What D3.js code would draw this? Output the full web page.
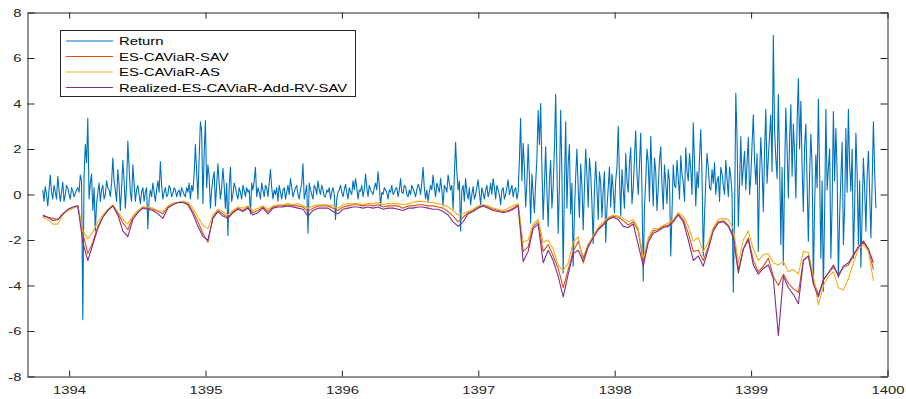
<!DOCTYPE html>
<html><head><meta charset="utf-8">
<script src="https://cdn.jsdelivr.net/npm/d3@7"></script>
<style>body{margin:0;background:#fff}svg{display:block}text{font-family:"Liberation Sans",Arial,Helvetica,sans-serif}</style>
</head><body><svg id="c" width="906" height="399"></svg>
<script>
// ---- data ----
const yearTicks = [1394, 1395, 1396, 1397, 1398, 1399, 1400];
const valueTicks = [-8, -6, -4, -2, 0, 2, 4, 6, 8];
const seriesNames = ["Return", "ES-CAViaR-SAV", "ES-CAViaR-AS", "Realized-ES-CAViaR-Add-RV-SAV"];
const seriesColors = ["#0072BD", "#D95319", "#EDB120", "#7E2F8E"];
const returnStart = 1393.807, returnEnd = 1399.915;
const esStart = 1393.807, esEnd = 1399.897;

const returnValues = [
0.2,-0.3,0.35,0.0,-0.5,0.2,0.85,0.1,-0.2,0.4,0.1,-0.2,0.8,0.2,-0.3,0.1,0.55,-0.3,0.0,0.4,0.3,0.0,-0.2,0.3,0.15,-0.1,0.05,0.2,0.3,0.1,0.85,0.6,-5.5,0.8,2.2,1.4,3.35,-0.2,0.5,0.9,-0.7,0.3,-1.6,-0.4,0.1,0.5,-0.3,0.2,0.4,-0.2,0.0,0.6,0.3,0.2,-0.1,0.5,1.6,0.6,0.2,-0.3,1.1,0.4,-0.7,0.3,1.5,0.6,-0.6,0.4,2.35,1.2,0.1,-0.3,1.3,0.5,-0.3,0.2,0.4,0.0,-0.4,0.1,0.3,-0.3,0.1,0.3,-1.5,-0.2,0.2,-0.1,0.5,0.1,-0.3,0.2,0.6,0.1,1.45,0.4,-0.2,0.1,0.3,-0.1,0.0,0.4,0.25,-0.1,0.05,0.3,0.2,-0.1,0.1,0.2,-0.1,0.3,0.15,0.0,
-0.1,0.3,0.1,0.5,-0.2,0.4,0.15,0.9,2.2,1.0,-0.2,1.6,3.2,2.75,-0.4,1.8,3.25,0.3,1.3,0.8,-0.6,0.2,0.7,1.0,-0.5,0.4,1.35,0.5,-0.2,0.3,1.15,0.4,-0.6,0.5,-1.8,0.3,1.2,-0.3,0.0,0.5,0.3,0.0,-0.2,0.3,0.1,-0.2,0.4,0.2,-0.1,0.3,0.1,0.2,-0.85,0.5,0.2,0.6,1.2,-0.1,0.3,0.1,-0.2,0.5,0.2,-0.1,0.4,0.3,-0.1,0.5,1.1,0.3,-0.2,0.2,0.0,0.3,-0.3,0.4,0.1,-0.2,0.2,0.3,-0.2,0.1,0.4,0.0,0.7,0.3,-0.1,0.1,0.3,0.4,0.0,-0.2,0.2,0.5,1.35,-0.2,0.1,0.4,-1.7,0.5,0.2,0.0,-0.2,0.4,0.3,0.0,0.6,0.2,0.0,0.4,0.2,-0.1,
-0.1,0.2,0.1,0.3,-0.2,0.1,0.3,0.0,-1.1,-0.2,0.1,0.2,0.4,0.1,-0.1,0.2,0.45,0.1,-0.2,0.3,0.1,0.0,0.6,0.2,0.7,0.3,-0.2,0.2,0.15,0.4,-0.1,0.2,0.9,0.3,-0.1,0.4,0.2,0.1,0.0,0.3,0.5,0.2,1.0,0.4,-0.5,0.1,0.0,0.3,0.2,0.1,-0.2,0.2,0.1,0.4,0.0,0.1,0.25,0.3,-0.1,0.2,0.7,0.1,0.05,0.4,0.35,0.0,-0.1,0.2,0.0,0.4,0.25,0.1,-0.1,0.2,0.45,0.3,0.0,0.5,1.2,0.3,-0.2,0.2,-0.3,0.1,0.4,0.2,0.85,0.3,-0.1,0.5,0.3,0.1,0.7,0.2,-0.5,0.4,0.3,0.1,0.85,0.5,0.2,0.4,-0.65,0.8,2.3,1.0,0.2,0.6,-1.6,0.2,0.4,-0.3,
0.7,0.1,-0.2,0.3,-0.45,0.0,0.35,-0.2,0.0,0.3,0.65,0.1,-0.45,0.3,0.05,-0.2,0.2,0.4,-0.1,0.1,0.5,0.0,0.7,0.3,-0.2,0.4,0.2,0.0,-0.45,0.2,0.3,-0.2,0.0,0.3,0.65,0.0,0.2,0.4,-0.1,0.2,0.3,-0.2,0.1,1.5,3.35,0.6,2.25,1.2,-0.55,0.5,2.2,0.8,-1.25,0.9,0.05,-0.8,0.5,1.6,3.7,2.2,4.0,1.2,-1.1,0.4,2.1,0.2,-1.4,0.6,1.5,-0.6,0.35,2.0,4.4,1.2,-1.7,0.4,3.7,0.9,-3.45,0.3,3.2,-0.6,1.35,2.2,-0.85,0.5,-3.15,-0.9,0.8,2.0,0.3,-1.0,1.35,0.4,-1.55,0.3,2.0,0.9,-0.55,1.6,0.9,-0.4,-2.15,0.2,1.45,0.3,-1.1,1.0,0.5,-1.0,0.2,1.0,-2.1,-0.6,0.3,1.2,-0.55,0.9,0.2,-0.8,0.6,1.2,3.0,0.8,-0.95,1.1,0.2,-0.6,1.8,0.6,0.1,1.4,2.05,-0.4,0.3,1.6,2.8,0.9,0.0,1.3,2.7,0.2,-3.8,-0.5,0.6,2.0,1.4,-0.3,2.55,0.9,-0.5,1.6,1.0,-0.7,0.3,1.5,2.1,0.4,-0.65,1.3,0.5,-0.4,1.1,0.6,-2.7,-0.8,1.3,0.4,0.3,1.5,0.7,-0.2,1.7,0.9,0.5,-0.3,2.05,1.0,0.6,1.8,1.1,0.0,3.15,1.4,-0.5,1.0,0.3,1.6,2.85,0.8,-2.7,-0.9,0.6,1.8,1.2,0.3,0.2,1.1,0.5,1.4,0.0,0.6,0.8,-0.3,1.2,0.9,0.4,0.0,1.5,0.7,-0.1,1.2,0.8,0.0,-4.3,-1.0,4.45,2.5,-1.4,0.5,2.55,0.4,
1.2,1.9,0.2,1.4,2.5,0.0,0.8,2.2,3.5,1.5,0.45,1.8,-2.5,0.8,2.5,1.2,-0.75,1.9,3.75,0.5,1.6,2.6,3.5,1.0,7.0,2.8,1.6,0.7,4.4,1.5,-2.2,1.2,-3.1,0.9,3.8,2.0,-0.15,2.4,3.95,0.8,3.1,1.8,-0.15,3.2,5.1,2.0,4.1,1.2,-0.75,2.1,3.1,0.5,-2.05,0.9,2.65,1.2,-3.95,-0.5,1.75,0.3,4.2,1.0,-2.8,0.6,-4.25,-0.8,3.75,0.2,1.15,2.0,-2.8,-0.4,3.65,0.6,2.9,1.0,-3.65,-1.0,0.75,2.3,-2.2,-0.6,2.9,0.1,3.75,1.3,0.15,2.0,-2.8,-0.5,2.7,0.9,-2.2,0.6,-3.2,-0.8,1.6,0.3,-1.6,0.8,1.9,0.1,-1.9,0.5,3.2,1.0,-0.6
];

const esSAV = [
-0.95,-1.0,-1.05,-1.1,-0.85,-0.7,-0.6,-0.5,-1.7,-2.6,-2.1,-1.4,-1.0,-0.7,-0.5,-0.8,-1.25,-1.55,-1.0,-0.75,-0.55,-0.6,-0.65,-0.75,-0.85,-0.55,-0.4,-0.35,-0.3,
-0.4,-0.75,-1.2,-1.7,-2.1,-1.0,-0.7,-0.85,-1.0,-0.75,-0.6,-0.7,-0.55,-0.8,-0.7,-0.55,-0.75,-0.55,-0.5,-0.5,-0.45,-0.5,-0.5,-0.55,-0.75,-0.6,-0.5,-0.5,
-0.5,-0.6,-0.7,-0.55,-0.5,-0.45,-0.45,-0.5,-0.45,-0.5,-0.45,-0.55,-0.5,-0.5,-0.5,-0.6,-0.5,-0.5,-0.45,-0.45,-0.5,-0.5,-0.55,-0.6,-0.75,-0.95,-1.2,-1.0,
-0.8,-0.7,-0.55,-0.45,-0.55,-0.65,-0.7,-0.75,-0.7,-0.6,-0.45,-2.5,-2.3,-1.4,-1.2,-2.5,-2.2,-2.7,-3.25,-4.1,-3.3,-2.5,-2.05,-2.8,-2.2,-1.85,-1.5,-1.3,
-1.05,-0.95,-1.0,-1.15,-1.35,-1.2,-1.6,-3.0,-2.0,-1.6,-1.55,-1.4,-1.35,-1.15,-0.85,-1.1,-1.7,-2.5,-2.45,-2.9,-2.3,-1.5,-1.2,-1.15,-1.35,-1.8,-3.3,
-2.4,-1.9,-2.9,-3.4,-3.15,-2.8,-3.6,-4.0,-3.5,-3.9,-4.15,-4.3,-2.9,-2.7,-3.8,-4.4,-3.75,-3.45,-3.2,-3.5,-3.2,-3.1,-2.7,-2.3,-2.1,-2.4,-3.3
];

const esAS = [
-1.0,-1.1,-1.3,-1.3,-0.9,-0.7,-0.6,-0.5,-1.6,-1.95,-1.65,-1.2,-0.9,-0.65,-0.45,-0.75,-1.1,-1.3,-0.95,-0.7,-0.55,-0.55,-0.6,-0.7,-0.75,-0.5,-0.4,-0.35,-0.3,
-0.35,-0.6,-1.0,-1.35,-1.5,-0.9,-0.65,-0.75,-0.9,-0.7,-0.55,-0.6,-0.5,-0.7,-0.6,-0.5,-0.65,-0.5,-0.45,-0.45,-0.4,-0.45,-0.4,-0.5,-0.6,-0.5,-0.45,-0.45,
-0.45,-0.5,-0.6,-0.45,-0.4,-0.4,-0.4,-0.45,-0.4,-0.4,-0.35,-0.45,-0.4,-0.4,-0.4,-0.45,-0.4,-0.35,-0.3,-0.3,-0.35,-0.35,-0.4,-0.45,-0.55,-0.7,-0.9,-0.85,
-0.75,-0.65,-0.5,-0.45,-0.5,-0.6,-0.65,-0.7,-0.6,-0.5,-0.4,-2.1,-2.0,-1.3,-1.1,-2.1,-2.0,-2.4,-3.1,-3.35,-3.0,-2.1,-1.85,-3.05,-2.3,-1.8,-1.45,-1.2,
-1.0,-0.9,-0.95,-1.05,-1.2,-1.1,-1.5,-2.8,-1.9,-1.5,-1.5,-1.35,-1.25,-1.1,-0.8,-0.95,-1.4,-2.05,-1.9,-2.5,-2.1,-1.45,-1.1,-1.05,-1.1,-1.5,-3.0,
-2.0,-1.6,-2.4,-2.9,-2.65,-2.6,-3.0,-3.1,-2.95,-3.4,-3.3,-3.5,-2.5,-2.55,-3.6,-4.85,-4.0,-3.6,-3.4,-4.1,-4.2,-3.7,-3.0,-2.4,-2.2,-2.5,-3.8
];

const esRV = [
-0.9,-1.0,-1.15,-1.1,-0.85,-0.65,-0.55,-0.5,-2.1,-2.9,-2.2,-1.5,-1.0,-0.7,-0.5,-0.9,-1.6,-1.85,-1.1,-0.8,-0.6,-0.65,-0.7,-0.85,-1.05,-0.6,-0.45,-0.35,-0.35,
-0.45,-0.85,-1.4,-1.85,-2.0,-1.05,-0.75,-0.95,-1.05,-0.8,-0.65,-0.75,-0.6,-0.9,-0.8,-0.6,-0.85,-0.6,-0.55,-0.55,-0.5,-0.55,-0.6,-0.65,-0.95,-0.7,-0.6,-0.6,
-0.6,-0.75,-0.85,-0.65,-0.6,-0.55,-0.55,-0.6,-0.55,-0.6,-0.55,-0.65,-0.6,-0.6,-0.65,-0.7,-0.6,-0.6,-0.55,-0.55,-0.6,-0.65,-0.65,-0.75,-0.9,-1.2,-1.4,-1.2,
-0.85,-0.75,-0.6,-0.5,-0.6,-0.7,-0.75,-0.8,-0.75,-0.65,-0.5,-2.95,-2.5,-1.5,-1.3,-3.0,-2.45,-2.9,-3.6,-4.5,-3.5,-2.6,-2.45,-2.95,-2.3,-1.9,-1.55,-1.35,
-1.1,-1.0,-1.1,-1.4,-1.45,-1.3,-2.2,-3.15,-2.1,-1.7,-1.6,-1.45,-1.4,-1.2,-0.9,-1.2,-2.0,-2.9,-2.7,-3.15,-2.4,-1.6,-1.25,-1.2,-1.4,-1.9,-3.45,
-2.4,-2.0,-3.1,-3.5,-3.25,-3.1,-3.7,-6.2,-3.6,-4.1,-4.4,-4.8,-2.9,-2.7,-3.95,-4.5,-3.75,-3.45,-3.1,-3.6,-3.15,-3.0,-2.65,-2.3,-2.05,-2.4,-3.0
];

// ---- chart ----
const svg = d3.select('#c');
svg.append('rect').attr('width', 906).attr('height', 399).attr('fill', '#fff');
const x = d3.scaleLinear().domain([1393.695, 1400]).range([27.5, 887.5]);
const y = d3.scaleLinear().domain([-8, 8]).range([376.5, 12.5]);
const axisColor = '#262626';
const FS = '11.5px';
const STRETCH = 1.29;

function dates(n, a, b) { return d3.range(n).map(i => a + (b - a) * i / (n - 1)); }
const retDates = dates(returnValues.length, returnStart, returnEnd);
const esDates = dates(esSAV.length, esStart, esEnd);

svg.append('clipPath').attr('id', 'clip').append('rect')
  .attr('x', x(1393.695)).attr('y', y(8)).attr('width', x(1400) - x(1393.695)).attr('height', y(-8) - y(8));

const plot = svg.append('g').attr('clip-path', 'url(#clip)');
const line = d3.line().x(d => x(d[0])).y(d => y(d[1]));
const series = [
  [retDates, returnValues],
  [esDates, esSAV],
  [esDates, esAS],
  [esDates, esRV]
];
series.forEach((s, k) => {
  plot.append('path')
    .attr('d', line(s[0].map((t, i) => [t, s[1][i]])))
    .attr('fill', 'none').attr('stroke', seriesColors[k])
    .attr('stroke-width', 1.1).attr('stroke-linejoin', 'round');
});

function styleAxis(g) {
  g.attr('font-size', null).attr('font-family', null);
  g.selectAll('path.domain').attr('stroke', axisColor).attr('stroke-width', 1);
  g.selectAll('line').attr('stroke', axisColor).attr('stroke-width', 1);
  g.selectAll('text').attr('fill', axisColor).style('font-size', FS);
}
svg.append('g').attr('transform', `translate(0,${y(-8)})`)
  .call(d3.axisBottom(x).tickValues(yearTicks).tickFormat(d => String(d)).tickSizeInner(-6).tickSizeOuter(0).tickPadding(9))
  .call(styleAxis);
svg.append('g').attr('transform', `translate(0,${y(8)})`)
  .call(d3.axisTop(x).tickValues(yearTicks).tickFormat('').tickSizeInner(-6).tickSizeOuter(0))
  .call(styleAxis);
svg.append('g').attr('transform', `translate(${x(1393.695)},0)`)
  .call(d3.axisLeft(y).tickValues(valueTicks).tickFormat(d => String(d)).tickSizeInner(-7).tickSizeOuter(0).tickPadding(6))
  .call(styleAxis);
svg.append('g').attr('transform', `translate(${x(1400)},0)`)
  .call(d3.axisRight(y).tickValues(valueTicks).tickFormat('').tickSizeInner(-7).tickSizeOuter(0))
  .call(styleAxis);

// legend
const lg = svg.append('g');
lg.append('rect').attr('x', 60.5).attr('y', 30.5).attr('width', 295).attr('height', 66)
  .attr('fill', '#fff').attr('stroke', axisColor).attr('stroke-width', 1);
seriesNames.forEach((name, k) => {
  const yy = 41 + k * 15.5;
  lg.append('line').attr('x1', 66).attr('x2', 113).attr('y1', yy).attr('y2', yy)
    .attr('stroke', seriesColors[k]).attr('stroke-width', 1.1);
  lg.append('text').attr('x', 119).attr('y', yy).attr('dy', '0.36em')
    .style('font-size', FS).attr('fill', '#000').text(name);
});

// horizontal stretch of the text as in the reference
svg.selectAll('text').each(function () {
  const L = this.getComputedTextLength();
  if (L > 0) {
    this.setAttribute('textLength', (L * STRETCH).toFixed(2));
    this.setAttribute('lengthAdjust', 'spacingAndGlyphs');
  }
});
</script></body></html>
